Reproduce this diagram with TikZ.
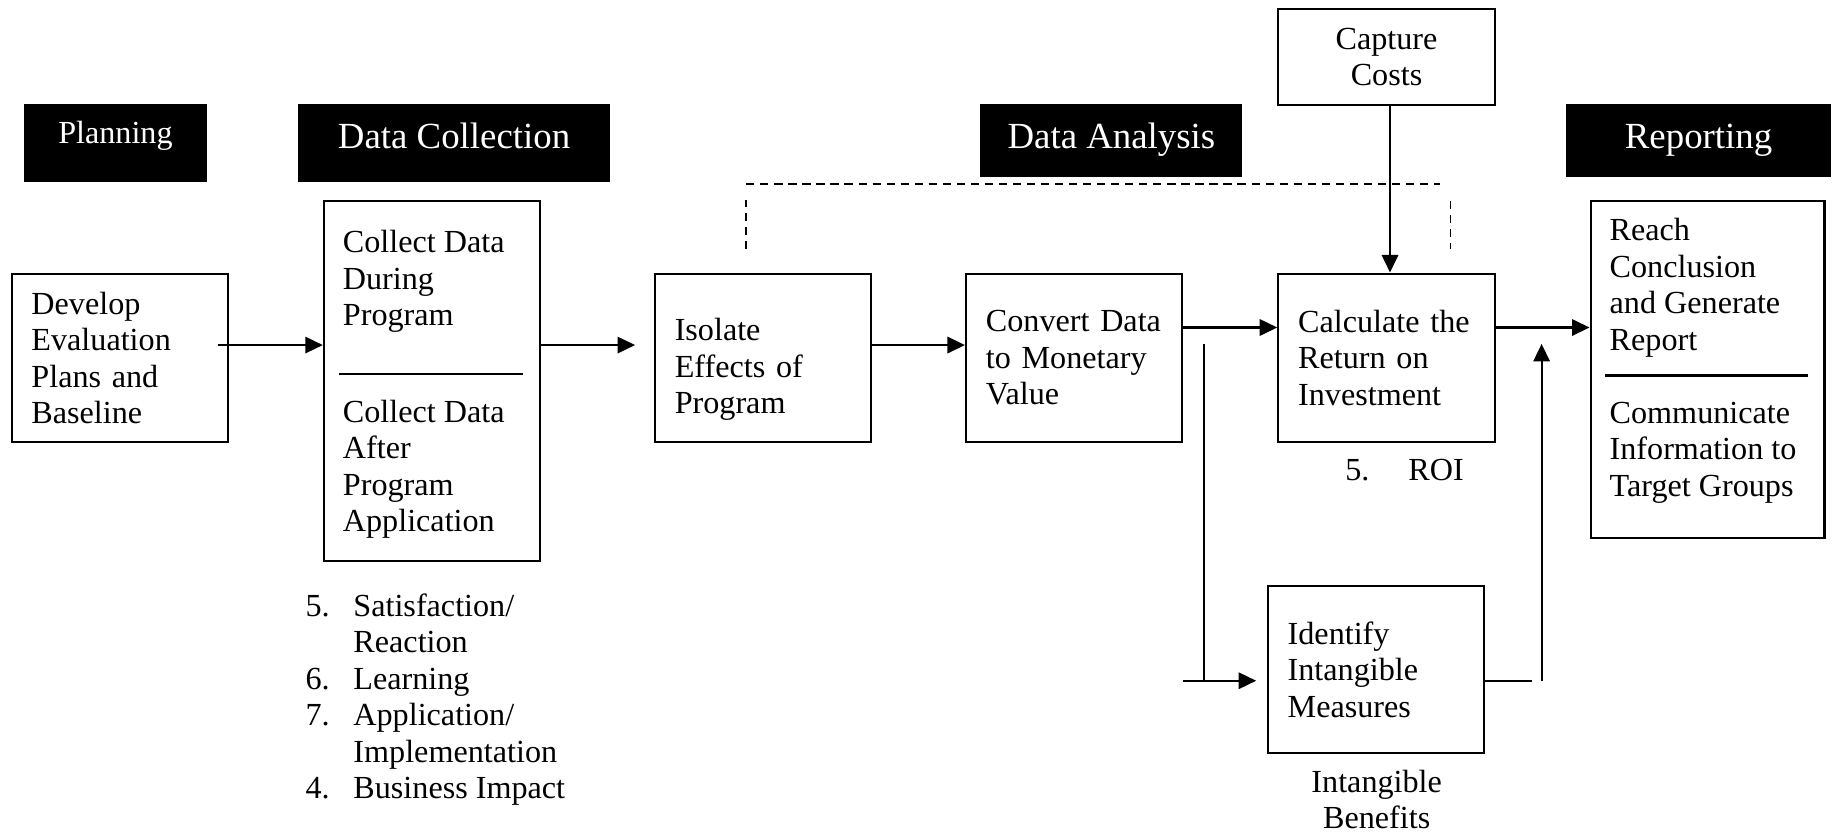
\documentclass[tikz,border=0pt]{standalone}
\usepackage{fontspec}
\setmainfont{Liberation Serif}
\usetikzlibrary{arrows.meta}
\begin{document}
\begin{tikzpicture}[x=1pt,y=-1pt,
  every node/.style={font=\fontsize{27.5}{31.2}\selectfont},
  stage/.style={fill=black, text=white, inner sep=0pt, anchor=north west, text height=21pt},
  bigstage/.style={stage, font=\fontsize{31.5}{36}\selectfont},
  box/.style={draw, line width=1.8pt, inner ysep=0pt, inner xsep=17pt, anchor=north west, align=left},
  plain/.style={inner sep=0pt, align=left, anchor=north west},
  arr/.style={line width=1.8pt, -{Triangle[length=15pt,width=14pt]}},
  link/.style={line width=1.8pt},
  guide/.style={line width=1.5pt, dash pattern=on 7pt off 5pt}]
\useasboundingbox (0,0) rectangle (1568,713);

% stage headings
\node[stage, minimum width=157pt, minimum height=66pt, text height=19pt, text depth=17.8pt] (plan) at (20,89) {Planning};
\node[bigstage, minimum width=266pt, minimum height=66pt, text depth=11.4pt] (collhd) at (255,89) {Data Collection};
\node[bigstage, minimum width=224pt, minimum height=62pt, text depth=7pt] (anahd) at (838,89) {Data Analysis};
\node[bigstage, minimum width=226pt, minimum height=62pt, text depth=7pt] (rephd) at (1339,89) {Reporting};

% process boxes
\node[box, text width=151pt, minimum height=144pt] (dev) at (9,233) {Develop\\Evaluation\\Plans and\\Baseline};
\node[box, minimum width=185pt, minimum height=308pt] (col) at (276,171) {};
\node[plain] (colA) at (293,195.7) {\rule{0pt}{20pt}Collect Data\\During\\Program};
\draw[link] (290,320) -- (447,320);
\node[plain] (colB) at (293,341) {\rule{0pt}{20pt}Collect Data\\After\\Program\\Application};

\node[box, text width=151pt, minimum height=144pt] (iso) at (559,233) {\rule{0pt}{39pt}Isolate\\Effects of\\Program};
\node[box, text width=151pt, minimum height=144pt] (conv) at (825,233) {Convert Data\\to Monetary\\Value};
\node[box, text width=151pt, minimum height=144pt] (calc) at (1092,233) {Calculate the\\Return on\\Investment};
\node[box, align=center, minimum width=185pt, minimum height=82pt] (cap) at (1092,7) {Capture\\Costs};
\node[box, text width=151pt, minimum height=143pt] (ident) at (1083,500) {Identify\\Intangible\\Measures};

\node[box, minimum width=200pt, minimum height=288pt] (reach) at (1359,171) {};
\node[plain] (reachA) at (1376,185.5) {\rule{0pt}{20pt}Reach\\Conclusion\\and Generate\\Report};
\draw[link] (1372,321) -- (1546,321);
\node[plain] (reachB) at (1376,341.5) {\rule{0pt}{20pt}Communicate\\Information to\\Target Groups};

% notes under the boxes
\node[plain] (levels) at (261,506.5) {\rule{0pt}{20pt}\makebox[41pt][l]{5.}Satisfaction/\\
  \hspace*{41pt}Reaction\\
  \makebox[41pt][l]{6.}Learning\\
  \makebox[41pt][l]{7.}Application/\\
  \hspace*{41pt}Implementation\\
  \makebox[41pt][l]{4.}Business Impact};
\node[plain, anchor=base west] (roi) at (1150,410.5) {\makebox[54pt][l]{5.}ROI};
\node[plain, align=center, anchor=north] (ben) at (1177,657) {\rule{0pt}{20pt}Intangible\\Benefits};

% main flow
\coordinate (p1) at (186,295);
\draw[arr] (p1) -- (p1 -| col.west);
\coordinate (p2) at (543,295);
\draw[arr] (p2 -| col.east) -- (p2);
\draw[arr] (iso.east |- p2) -- (conv.west |- p2);
\coordinate (p4) at (1010,280);
\draw[arr] (conv.east |- p4) -- (calc.west |- p4);
\draw[arr] (calc.east |- p4) -- (reach.west |- p4);
\draw[arr] ([xshift=3pt]cap.south) -- ([xshift=3pt]calc.north);

% intangible branch
\coordinate (b1) at (1029,294);
\coordinate (b2) at (1011,582);
\coordinate (b3) at (1074,582);
\draw[link] (b1) -- (b1 |- b2);
\draw[arr] (b2) -- (b3);
\coordinate (r1) at (1310,582);
\draw[link] (ident.east |- r1) -- (r1);
\coordinate (r2) at (1318,582);
\coordinate (r3) at (1318,294);
\draw[arr] (r2) -- (r3);

% dashed bracket over the analysis steps
\draw[guide] (638,213) -- (638,171);
\draw[guide] (638,157) -- (1231,157);
\draw[guide] (1240,172) -- (1240,213);
\end{tikzpicture}
\end{document}
